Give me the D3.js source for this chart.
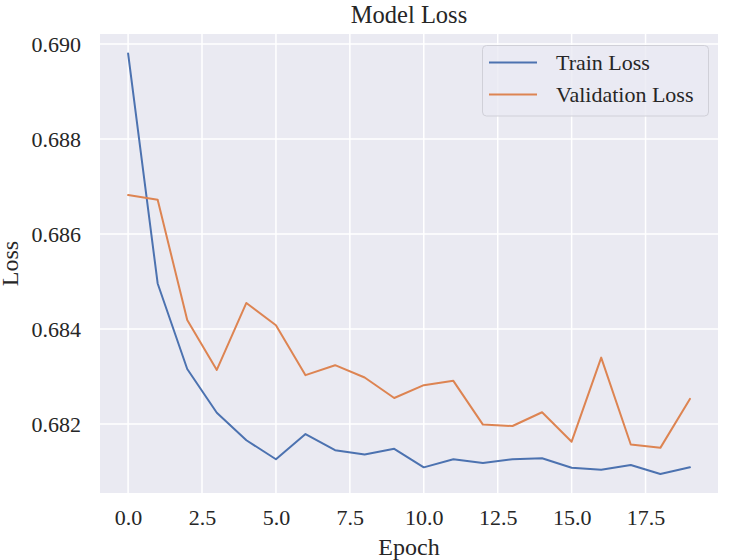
<!DOCTYPE html>
<html>
<head>
<meta charset="utf-8">
<script src="https://cdn.jsdelivr.net/npm/d3@7"></script>
<style>
  html, body { margin: 0; padding: 0; background: #ffffff; }
  svg { display: block; }
  text { font-family: "Liberation Serif", "Times New Roman", serif; fill: #262626; }
</style>
</head>
<body>
<svg id="chart" width="734" height="560"></svg>
<script>
const epochs = d3.range(0, 20);
const trainLoss = [0.68980, 0.68496, 0.68316, 0.68224, 0.68166, 0.68126, 0.68179, 0.68145, 0.68136, 0.68148,
                   0.68109, 0.68126, 0.68118, 0.68126, 0.68128, 0.68108, 0.68104, 0.68114, 0.68095, 0.68109];
const valLoss   = [0.68682, 0.68672, 0.68419, 0.68314, 0.68455, 0.68408, 0.68303, 0.68324, 0.68298, 0.68255,
                   0.68282, 0.68291, 0.68199, 0.68196, 0.68225, 0.68163, 0.68340, 0.68157, 0.68150, 0.68253];
const xTicks = [0, 2.5, 5, 7.5, 10, 12.5, 15, 17.5];
const yTicks = [0.682, 0.684, 0.686, 0.688, 0.690];
const seriesNames = ["Train Loss", "Validation Loss"];
const seriesColors = ["#4c72b0", "#dd8452"];

const svg = d3.select("#chart");
const plot = { left: 100, right: 718, top: 34, bottom: 493 };

const x = d3.scaleLinear().domain([-0.95, 19.95]).range([plot.left, plot.right]);
const y = d3.scaleLinear().domain([0.68055, 0.69021]).range([plot.bottom, plot.top]);

// background
svg.append("rect")
  .attr("x", plot.left).attr("y", plot.top)
  .attr("width", plot.right - plot.left).attr("height", plot.bottom - plot.top)
  .attr("fill", "#eaeaf2");

// grid
svg.append("g").selectAll("line").data(xTicks).join("line")
  .attr("x1", d => x(d)).attr("x2", d => x(d))
  .attr("y1", plot.top).attr("y2", plot.bottom)
  .attr("stroke", "#ffffff").attr("stroke-width", 1.5);
svg.append("g").selectAll("line").data(yTicks).join("line")
  .attr("y1", d => y(d)).attr("y2", d => y(d))
  .attr("x1", plot.left).attr("x2", plot.right)
  .attr("stroke", "#ffffff").attr("stroke-width", 1.5);

// axes (labels only, seaborn darkgrid style)
const xAxis = d3.axisBottom(x).tickValues(xTicks).tickFormat(d3.format(".1f")).tickSize(0).tickPadding(0);
const gx = svg.append("g").attr("transform", `translate(0,${plot.bottom})`).call(xAxis);
gx.select(".domain").remove();
gx.selectAll("text").attr("font-size", 22).attr("dy", null).attr("y", 32).attr("fill", "#262626")
  .style("font-family", "'Liberation Serif', 'Times New Roman', serif");

const yAxis = d3.axisLeft(y).tickValues(yTicks).tickFormat(d3.format(".3f")).tickSize(0).tickPadding(0);
const gy = svg.append("g").attr("transform", `translate(${plot.left},0)`).call(yAxis);
gy.select(".domain").remove();
gy.selectAll("text").attr("font-size", 22).attr("x", -19).attr("dy", "0.35em").attr("fill", "#262626")
  .style("font-family", "'Liberation Serif', 'Times New Roman', serif");

// lines
const series = [trainLoss, valLoss];
const line = d3.line().x((d, i) => x(epochs[i])).y(d => y(d));
series.forEach((s, k) => {
  svg.append("path").datum(s)
    .attr("fill", "none")
    .attr("stroke", seriesColors[k])
    .attr("stroke-width", 2)
    .attr("stroke-linejoin", "round")
    .attr("stroke-linecap", "round")
    .attr("d", line);
});

// title and axis labels
svg.append("text").attr("x", (plot.left + plot.right) / 2).attr("y", 23)
  .attr("text-anchor", "middle").attr("font-size", 24.5).text("Model Loss");
svg.append("text").attr("x", (plot.left + plot.right) / 2).attr("y", 555)
  .attr("text-anchor", "middle").attr("font-size", 24).text("Epoch");
svg.append("text").attr("transform", `translate(18,${(plot.top + plot.bottom) / 2}) rotate(-90)`)
  .attr("text-anchor", "middle").attr("font-size", 24).text("Loss");

// legend
const lg = svg.append("g");
lg.append("rect").attr("x", 482.5).attr("y", 45.5).attr("width", 226).attr("height", 70.5)
  .attr("rx", 4).attr("fill", "#eaeaf2").attr("fill-opacity", 0.8)
  .attr("stroke", "#d0d0d8").attr("stroke-width", 1);
seriesNames.forEach((name, k) => {
  const yy = 62.5 + k * 32;
  lg.append("line").attr("x1", 489).attr("x2", 537).attr("y1", yy).attr("y2", yy)
    .attr("stroke", seriesColors[k]).attr("stroke-width", 2);
  lg.append("text").attr("x", 556).attr("y", yy).attr("dy", "0.35em")
    .attr("font-size", 22).text(name);
});
</script>
</body>
</html>
